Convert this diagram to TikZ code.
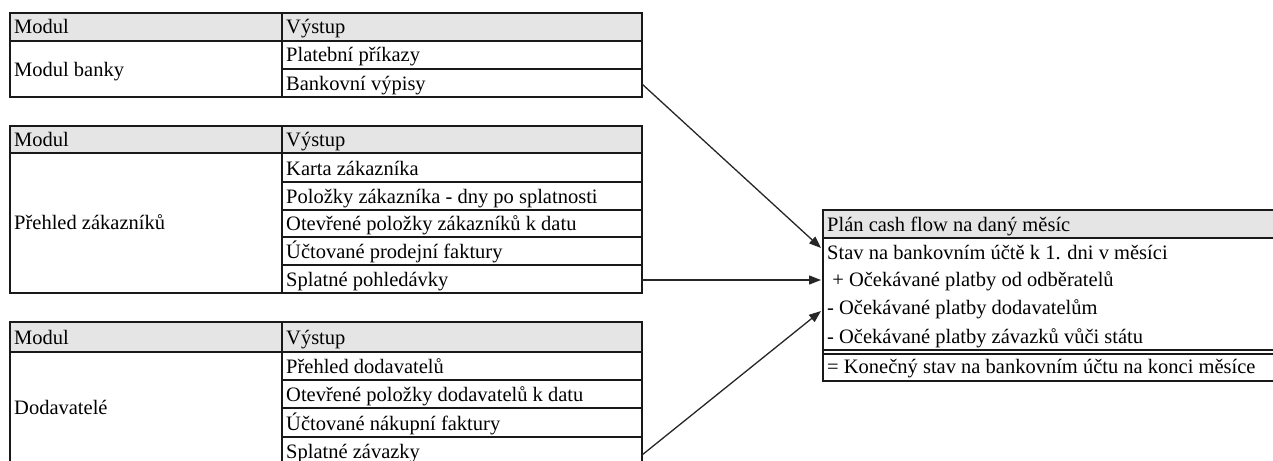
\documentclass[tikz,border=0pt]{standalone}
\usepackage{fontspec}
\setmainfont{Liberation Serif}
\usetikzlibrary{arrows.meta}
\begin{document}
\begin{tikzpicture}[x=1pt,y=-1pt,
  grid/.style={draw=black!90, line width=1.4pt},
  headfill/.style={fill=black!10},
  txt/.style={anchor=base west, inner sep=0pt, font=\fontsize{20.5}{22}\selectfont},
  flow/.style={draw=black!85, line width=1.3pt, -{Triangle[length=12pt,width=9pt]}}]
\useasboundingbox (0,0) rectangle (1273,460);
\begin{scope}
\clip (0,0) rectangle (1273,460);

% ---- Modul banky ----
\fill[headfill] (10,13) rectangle (642,41);
\draw[grid] (10,13) rectangle (642,97);
\draw[grid] (10,41) -- (642,41);
\draw[grid] (282,13) -- (282,97);
\draw[grid] (282,69) -- (642,69);
\node[txt] (m1h) at (14,34) {Modul};
\node[txt] (v1h) at (286,34) {Výstup};
\node[txt] (m1) at (14,76) {Modul banky};
\node[txt] (o11) at (286,62) {Platební příkazy};
\node[txt] (o12) at (286,90) {Bankovní výpisy};
\coordinate (out1) at (642,84);

% ---- Přehled zákazníků ----
\fill[headfill] (10,126) rectangle (642,153);
\draw[grid] (10,126) rectangle (642,293);
\draw[grid] (10,153) -- (642,153);
\draw[grid] (282,126) -- (282,293);
\foreach \yy in {182,210,237,265} \draw[grid] (282,\yy) -- (642,\yy);
\node[txt] (m2h) at (14,146) {Modul};
\node[txt] (v2h) at (286,146) {Výstup};
\node[txt] (m2) at (14,229) {Přehled zákazníků};
\node[txt] (o21) at (286,175) {Karta zákazníka};
\node[txt] (o22) at (286,203) {Položky zákazníka - dny po splatnosti};
\node[txt] (o23) at (286,230) {Otevřené položky zákazníků k datu};
\node[txt] (o24) at (286,258) {Účtované prodejní faktury};
\node[txt] (o25) at (286,286) {Splatné pohledávky};
\coordinate (out2) at (642,280);

% ---- Dodavatelé ----
\fill[headfill] (10,322) rectangle (642,352);
\draw[grid] (10,322) rectangle (642,466);
\draw[grid] (10,352) -- (642,352);
\draw[grid] (282,322) -- (282,466);
\foreach \yy in {380,408,437} \draw[grid] (282,\yy) -- (642,\yy);
\node[txt] (m3h) at (14,344) {Modul};
\node[txt] (v3h) at (286,344) {Výstup};
\node[txt] (m3) at (14,414) {Dodavatelé};
\node[txt] (o31) at (286,373) {Přehled dodavatelů};
\node[txt] (o32) at (286,401) {Otevřené položky dodavatelů k datu};
\node[txt] (o33) at (286,430) {Účtované nákupní faktury};
\node[txt] (o34) at (286,458) {Splatné závazky};
\coordinate (out3) at (642,455);

% ---- Plán cash flow ----
\fill[headfill] (823,210) rectangle (1280,238);
\draw[grid] (1280,210) -- (823,210) -- (823,381) -- (1280,381);
\draw[grid] (823,238) -- (1280,238);
\draw[grid] (823,350) -- (1280,350);
\draw[grid] (823,354) -- (1280,354);
\node[txt] (ph) at (827,231) {Plán cash flow na daný měsíc};
\node[txt] (p1) at (827,259) {Stav na bankovním účtě k 1. dni v měsíci};
\node[txt] (p2) at (827,286) {\ + Očekávané platby od odběratelů};
\node[txt] (p3) at (827,314) {- Očekávané platby dodavatelům};
\node[txt] (p4) at (827,343) {- Očekávané platby závazků vůči státu};
\node[txt] (p5) at (827,373) {= Konečný stav na bankovním účtu na konci měsíce};
\coordinate (in1) at (821,248);
\coordinate (in2) at (821,280);
\coordinate (in3) at (821,311);

% ---- connectors ----
\draw[flow] (out1) -- (in1);
\draw[flow] (out2) -- (in2);
\draw[flow] (out3) -- (in3);
\end{scope}
\end{tikzpicture}
\end{document}
